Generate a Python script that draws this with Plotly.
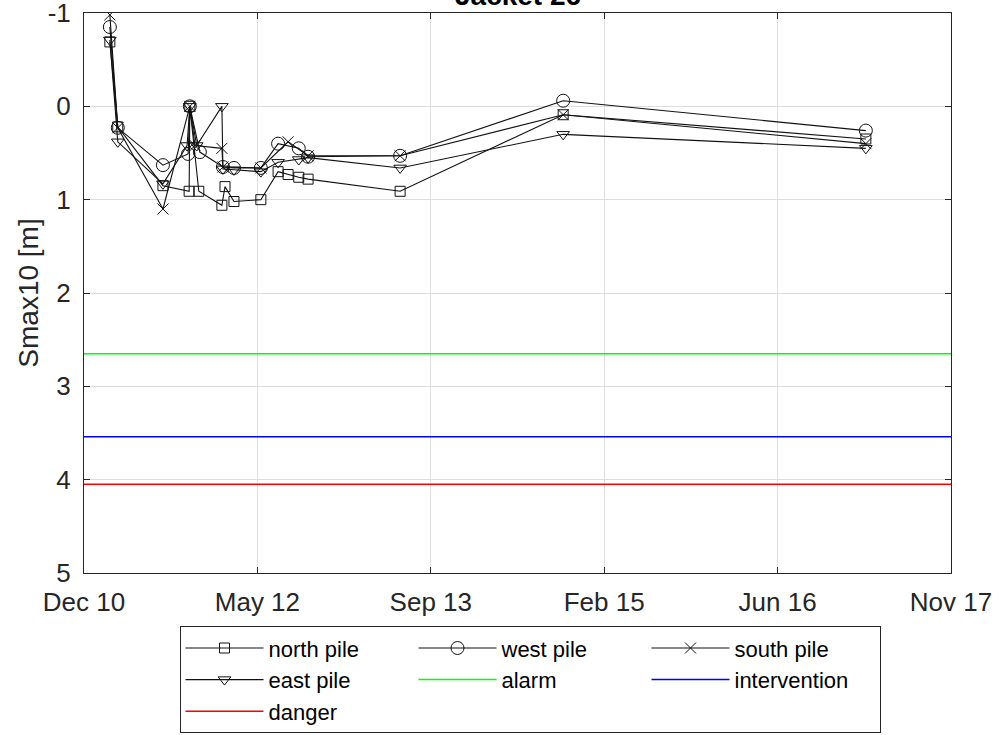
import plotly.graph_objects as go

# ---------------- data ----------------
north_dates = ["2011-03-05", "2011-03-28", "2011-08-06", "2011-10-21", "2011-10-23", "2011-11-18",
               "2012-01-24", "2012-02-02", "2012-02-28", "2012-05-16", "2012-07-05", "2012-08-03",
               "2012-09-03", "2012-09-30", "2013-06-24", "2014-10-10", "2017-03-06"]
north_vals = [-0.69, 0.22, 0.85, 0.91, 0.0, 0.91, 1.06, 0.86, 1.02, 1.0, 0.70, 0.73, 0.76, 0.78,
              0.91, 0.09, 0.35]

west_dates = ["2011-03-05", "2011-03-28", "2011-08-06", "2011-10-18", "2011-10-23", "2011-11-21",
              "2012-01-27", "2012-02-28", "2012-05-16", "2012-07-05", "2012-09-03", "2012-09-30",
              "2013-06-24", "2014-10-10", "2017-03-06"]
west_vals = [-0.85, 0.23, 0.63, 0.51, 0.0, 0.49, 0.65, 0.66, 0.66, 0.40, 0.45, 0.54, 0.53, -0.06, 0.26]

south_dates = ["2011-03-05", "2011-03-28", "2011-08-06", "2011-10-23", "2011-11-07", "2012-01-24",
               "2012-01-27", "2012-05-16", "2012-08-03", "2012-09-30", "2013-06-24", "2014-10-10",
               "2017-03-06"]
south_vals = [-0.98, 0.23, 1.10, 0.0, 0.42, 0.45, 0.65, 0.66, 0.38, 0.53, 0.53, 0.09, 0.40]

east_dates = ["2011-03-05", "2011-03-28", "2011-08-06", "2011-10-15", "2011-10-23", "2011-11-12",
              "2012-01-24", "2012-01-27", "2012-02-28", "2012-05-16", "2012-07-05", "2012-09-03",
              "2012-09-30", "2013-06-24", "2014-10-10", "2017-03-06"]
east_vals = [-0.71, 0.38, 0.83, 0.42, 0.0, 0.42, 0.0, 0.67, 0.68, 0.70, 0.60, 0.57, 0.55, 0.66,
             0.30, 0.45]

alarm_level = 2.65
intervention_level = 3.54
danger_level = 4.05

tick_dates = ["2010-12-20", "2012-05-06", "2013-09-21", "2015-02-06", "2016-06-23", "2017-11-08"]
tick_labels = ["Dec 10", "May 12", "Sep 13", "Feb 15", "Jun 16", "Nov 17"]
y_ticks = [-1, 0, 1, 2, 3, 4, 5]

# ---------------- figure ----------------
FONT = "Liberation Sans, Arial, sans-serif"
fig = go.Figure()

pile_specs = [
    ("north pile", north_dates, north_vals, "square-open", 10),
    ("west pile", west_dates, west_vals, "circle-open", 13),
    ("south pile", south_dates, south_vals, "x-thin-open", 11),
    ("east pile", east_dates, east_vals, "triangle-down-open", 11),
]
for name, xs, ys, sym, sz in pile_specs:
    fig.add_trace(go.Scatter(
        x=xs, y=ys, name=name, mode="lines+markers",
        line=dict(color="#111111", width=1.1),
        marker=dict(symbol=sym, size=sz, color="#111111", line=dict(color="#111111", width=1)),
    ))

x_ends = [tick_dates[0], tick_dates[-1]]
for name, lvl, col in [("alarm", alarm_level, "#00ff00"),
                       ("intervention", intervention_level, "#0000ff"),
                       ("danger", danger_level, "#ff0000")]:
    fig.add_trace(go.Scatter(x=x_ends, y=[lvl, lvl], name=name, mode="lines",
                             line=dict(color=col, width=1.5)))

axis_common = dict(
    showline=True, linecolor="#262626", linewidth=1, mirror="allticks",
    ticks="inside", ticklen=6, tickcolor="#262626", automargin=False,
    ticklabeloverflow="allow",
    showgrid=True, gridcolor="#dedede", gridwidth=1, zeroline=False,
    tickfont=dict(family=FONT, size=26, color="#262626"),
)

fig.update_layout(
    width=999, height=735,
    margin=dict(l=84, r=48, t=13, b=162, autoexpand=False),
    paper_bgcolor="white", plot_bgcolor="white",
    font=dict(family=FONT, color="#262626"),
    xaxis=dict(type="date", range=[tick_dates[0], tick_dates[-1]],
               tickmode="array", tickvals=tick_dates, ticktext=tick_labels,
               ticklabelstandoff=6, **axis_common),
    yaxis=dict(range=[5, -1], tickmode="array", tickvals=y_ticks,
               ticktext=[str(v) for v in y_ticks], ticklabelstandoff=7,
               title=dict(text="Smax10 [m]", font=dict(family=FONT, size=28, color="#262626"),
                          standoff=0),
               **axis_common),
    legend=dict(orientation="h", x=(530 - 84) / 867, xanchor="center",
                y=-0.095, yanchor="top",
                bordercolor="#262626", borderwidth=1, bgcolor="white",
                font=dict(family=FONT, size=22, color="#000000"),
                entrywidth=140, entrywidthmode="pixels", tracegroupgap=0,
                itemwidth=78),
    showlegend=True,
    annotations=[dict(text="<b>Jacket 26</b>", xref="paper", yref="paper",
                      x=0.5, y=1, xanchor="center", yanchor="bottom", yshift=0,
                      showarrow=False, font=dict(family=FONT, size=28, color="#000000"))],
)

fig.write_html("out.html", config={"displayModeBar": False},
               post_script="document.body.style.margin='0px';document.body.style.overflow='hidden';")
